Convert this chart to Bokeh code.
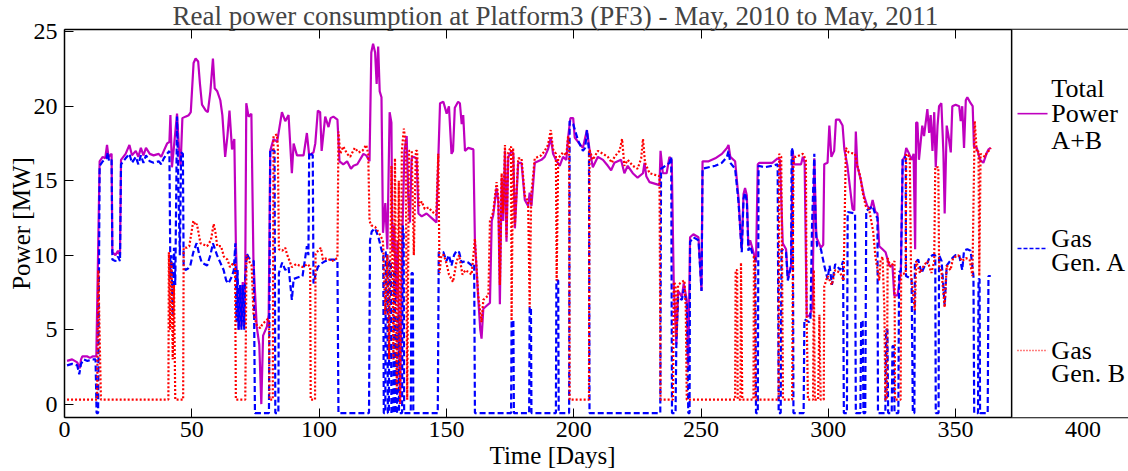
import math
from bokeh.plotting import figure
from bokeh.models import Range1d, FixedTicker, BoxAnnotation, Span, Title, LinearAxis
from bokeh.core.properties import value
from bokeh.embed import file_html
from bokeh.resources import INLINE

# ---------------- data ----------------
total_day = [1, 3, 5, 6, 6.5, 7, 9, 10, 11, 12.5, 13.8, 15, 16, 16.7, 17.3, 18.5, 18.8, 20, 21, 21.8, 22.2, 24, 25.5, 26.5, 28, 29, 30, 31, 32, 33.5, 35, 37, 38, 39, 40.3, 41.2, 41.6, 42.2, 43, 44.2, 45, 45.6, 46.3, 47.5, 48.8, 49.6, 50.7, 51.5, 52.5, 53.2, 54, 55.5, 56.3, 57.3, 58.3, 59, 60, 61.2, 62, 63.1, 64, 64.8, 65.8, 66.7, 67.3, 68, 68.4, 69, 69.5, 70, 70.6, 71, 71.4, 72.3, 73.4, 74.2, 75.5, 76.5, 77.3, 78, 79.5, 80.2, 80.8, 82.1, 83.5, 85.4, 86.7, 88, 89.3, 90, 91.3, 93.9, 95.2, 96.1, 97.8, 98.5, 99.5, 100.4, 101, 102.4, 103.7, 104.5, 105.6, 107.2, 108, 109.5, 111, 112.5, 113.5, 115, 117.4, 118.5, 119.8, 120.5, 121.2, 122, 122.6, 123.2, 123.8, 124.5, 125.1, 126, 126.8, 127.7, 128.4, 128.8, 129.5, 130.2, 130.8, 131.8, 132.6, 133.5, 134.4, 135, 135.7, 136.3, 137, 138.3, 139, 140.3, 142.2, 144.8, 146.1, 146.8, 147.5, 148.8, 150.1, 151, 152, 152.6, 153.3, 154.6, 155.3, 156, 156.6, 157.3, 158.6, 160.6, 161.2, 162.5, 163.3, 163.8, 164.5, 165.8, 167.1, 167.8, 168.4, 169.7, 170.4, 171, 171.7, 172.3, 173, 173.6, 174.3, 175.6, 176.3, 176.9, 178.2, 179.5, 180.8, 182.1, 182.7, 183.4, 184.7, 187.3, 188.6, 189.9, 191, 191.9, 193, 194.5, 195.8, 197.1, 197.8, 198.7, 199.8, 200.4, 201.7, 203.6, 205.2, 206.2, 207.5, 209.5, 211.5, 213.4, 214.7, 216, 218.6, 219.9, 221.2, 223.2, 225.1, 227.2, 227.8, 228.5, 229.8, 233.7, 234.1, 235, 236.5, 237.6, 238.5, 239.3, 240.3, 241, 242.5, 243.2, 244.4, 245, 245.7, 247, 249, 250.2, 250.6, 253, 255.6, 258.2, 260.2, 260.8, 261.5, 263.4, 264.7, 265.5, 266, 266.7, 267.3, 268, 268.6, 269.3, 270.6, 271.6, 272.3, 272.9, 275, 278, 280.1, 281, 282.1, 283.4, 284.1, 285.4, 286, 286.6, 289.3, 290, 290.7, 291.5, 292.5, 293.8, 294.5, 295.3, 297.1, 298, 298.4, 299.7, 300.4, 301.2, 302.3, 303, 304.3, 305.6, 306.3, 307.5, 309.5, 310.2, 310.8, 311.4, 312.7, 314, 315.3, 316.6, 317.4, 318.5, 319.3, 320, 321.3, 322.5, 323.9, 325.2, 325.9, 327.2, 328.5, 329.2, 330, 330.6, 331.5, 332.7, 333.5, 334.1, 334.5, 335, 335.6, 336.9, 337.6, 338.9, 339.6, 340.2, 340.9, 341.6, 342.2, 342.9, 343.5, 344.4, 345.2, 345.7, 346.5, 347.2, 348.1, 348.7, 350, 351.4, 352, 352.6, 353.3, 354, 354.6, 355.9, 356.7, 357.2, 358.3, 359.6, 360.9, 362.3, 362.9, 363.8]
total_mw = [2.9, 3.0, 2.8, 2.4, 3.0, 3.2, 3.2, 3.1, 3.2, 3.2, 16.3, 16.6, 16.5, 17.4, 16.6, 16.8, 10.2, 10.0, 10.3, 10.0, 16.4, 16.8, 17.4, 16.7, 17.0, 16.6, 17.2, 16.7, 17.2, 16.8, 16.7, 16.8, 16.6, 17.0, 17.5, 17.6, 19.4, 15.9, 17.3, 19.5, 17.0, 16.0, 19.2, 19.3, 19.4, 19.6, 22.9, 23.2, 23.0, 21.5, 20.1, 19.7, 19.6, 21.0, 23.2, 21.2, 21.0, 20.4, 19.4, 16.6, 18.0, 19.7, 17.1, 17.8, 10.8, 7.0, 5.0, 8.0, 5.2, 8.2, 5.3, 9.0, 20.2, 19.3, 19.5, 9.7, 5.2, 4.0, 0.0, 4.6, 5.2, 6.0, 17.0, 17.8, 17.6, 19.6, 19.0, 19.4, 15.5, 17.5, 16.7, 16.7, 18.2, 16.7, 16.9, 17.5, 19.7, 19.6, 17.0, 19.3, 18.6, 19.2, 19.3, 19.1, 16.3, 16.1, 16.3, 15.8, 16.0, 16.1, 16.8, 16.7, 16.3, 23.6, 24.2, 23.6, 21.5, 24.0, 21.0, 20.6, 11.5, 13.5, 10.4, 19.6, 18.9, 10.2, 12.0, 7.0, 11.0, 0.0, 10.5, 17.0, 18.0, 14.0, 12.2, 16.5, 16.6, 16.5, 12.8, 12.6, 12.8, 12.4, 12.2, 16.4, 20.2, 20.3, 19.5, 20.0, 16.8, 17.0, 19.9, 20.3, 20.2, 18.8, 19.4, 17.0, 17.2, 17.1, 10.9, 7.1, 5.0, 4.4, 6.4, 6.6, 6.8, 12.3, 12.7, 14.5, 13.6, 6.7, 15.2, 12.3, 17.0, 10.9, 16.6, 17.0, 16.8, 11.8, 16.2, 16.2, 13.7, 13.3, 14.2, 13.3, 16.2, 16.4, 16.6, 17.1, 17.9, 16.8, 16.4, 16.0, 16.6, 16.4, 17.9, 19.2, 19.2, 17.9, 17.6, 17.2, 18.4, 17.1, 15.9, 16.6, 16.4, 16.0, 15.7, 16.2, 16.4, 15.5, 16.0, 15.5, 15.2, 15.5, 16.2, 15.3, 14.9, 14.7, 17.0, 15.5, 15.5, 16.6, 16.4, 8.0, 4.0, 7.6, 7.2, 8.1, 7.0, 2.6, 11.2, 11.4, 11.2, 7.6, 16.3, 16.3, 16.5, 16.8, 17.2, 17.4, 16.6, 16.3, 13.9, 11.5, 10.4, 14.1, 14.5, 14.0, 10.6, 11.0, 10.2, 9.5, 16.1, 16.2, 16.2, 16.2, 16.5, 16.4, 10.8, 10.4, 8.4, 9.3, 17.0, 16.1, 16.1, 16.6, 16.2, 5.9, 5.9, 6.5, 16.5, 11.2, 10.5, 10.7, 16.1, 16.2, 18.7, 16.6, 17.0, 19.1, 19.1, 18.7, 17.1, 16.0, 13.1, 13.0, 18.3, 16.0, 15.1, 14.0, 13.3, 13.1, 13.7, 12.9, 12.8, 10.6, 10.4, 10.2, 9.3, 9.3, 7.3, 7.3, 8.9, 16.4, 16.6, 17.2, 16.9, 16.4, 16.8, 10.4, 18.9, 18.9, 16.4, 18.7, 18.0, 19.8, 18.2, 19.4, 17.0, 19.6, 15.9, 18.7, 20.0, 20.2, 16.9, 12.8, 18.7, 18.0, 16.9, 20.0, 20.1, 20.0, 19.0, 20.0, 17.2, 20.4, 20.6, 20.2, 20.0, 17.3, 17.2, 16.4, 16.2, 16.9, 17.1, 17.2]

gen_a_day = [1, 3, 5, 5.8, 6.5, 7.5, 9, 11, 12.2, 12.6, 13.2, 13.8, 15, 16.5, 17, 17.5, 18.5, 18.8, 20, 21, 21.8, 22.2, 24, 25.5, 26.5, 28, 29, 30, 31, 32, 33.5, 35, 37, 38, 39, 40.3, 41.2, 41.6, 42, 42.5, 43, 43.5, 44.2, 44.8, 45.3, 45.8, 46.5, 46.8, 47.5, 48.5, 49.4, 50.6, 51.9, 53, 53.9, 56, 57.3, 58.3, 59.9, 61.2, 62.5, 63.5, 64.4, 65.8, 66.5, 67.1, 67.5, 68, 68.4, 69, 69.5, 70, 70.6, 71, 71.6, 72.5, 73.5, 74.3, 74.8, 80.3, 80.8, 82.5, 82.8, 84, 84.2, 85.5, 86.7, 88, 89.3, 90, 91.5, 93.5, 95.2, 95.8, 96.1, 97.5, 97.8, 98.6, 99.5, 100.5, 102.4, 104.5, 106, 107.2, 107.6, 119.6, 120, 120.7, 122, 123.3, 124.6, 125.2, 125.4, 126, 126.2, 126.8, 127, 127.4, 127.6, 128.2, 128.4, 129.2, 129.4, 129.8, 130, 130.6, 130.8, 131.2, 131.4, 132.6, 132.8, 133.2, 133.4, 136, 136.3, 136.8, 137, 146.6, 147, 148.8, 150, 151, 152, 153, 154, 155, 156, 157.3, 158.6, 160, 160.9, 161.2, 175.4, 175.6, 176.3, 176.5, 182.5, 182.7, 183.2, 183.4, 193, 193.2, 193.9, 194.1, 198.2, 198.4, 199.8, 201.7, 203.6, 204.5, 205.2, 206, 206.2, 234, 234.3, 236, 237.6, 238.3, 238.6, 240, 240.3, 241, 242.5, 243.2, 244.4, 245, 245.5, 245.7, 247, 249, 250.2, 250.6, 253, 255.6, 258.2, 260.2, 260.8, 261.5, 263.4, 264.7, 265.5, 266, 266.7, 267.3, 268, 268.6, 269.3, 270.6, 271.3, 271.6, 272.3, 272.6, 275, 278, 280.1, 280.5, 281.3, 281.6, 283.4, 284.1, 285.4, 285.6, 286, 286.3, 290.3, 290.6, 292.5, 293, 293.6, 294.5, 295, 295.6, 297.1, 298.4, 299.7, 300.5, 301.4, 302.7, 304.7, 305.8, 306.1, 307.3, 307.6, 310.5, 310.8, 312.6, 312.9, 313.5, 313.8, 314.5, 314.9, 316, 317.4, 318.5, 319.3, 319.5, 322.4, 322.7, 323.2, 323.5, 324.9, 325.2, 325.7, 326, 327.5, 327.8, 328.5, 329.2, 330, 330.4, 330.5, 332.7, 333.2, 333.8, 334, 335.3, 336.6, 337.9, 339, 339.6, 340.9, 342, 342.2, 343.3, 343.5, 344.5, 345.7, 346.5, 347.8, 348.7, 350, 351.4, 352.6, 353.3, 354.6, 355.9, 357, 357.3, 358.8, 359, 359.4, 359.6, 362.6, 362.9, 363.8]
gen_a_mw = [2.6, 2.7, 2.6, 2.0, 2.7, 3.0, 2.9, 3.0, 3.0, -0.6, -0.6, 16.0, 16.3, 16.5, 16.9, 16.3, 16.4, 9.7, 9.6, 9.9, 9.6, 16.1, 16.5, 16.8, 16.2, 16.6, 16.1, 16.7, 16.2, 16.7, 16.3, 16.2, 16.3, 16.1, 16.5, 16.8, 17.0, 8.4, 10.0, 6.0, 10.5, 8.0, 19.3, 14.0, 10.0, 16.9, 16.8, 9.2, 9.0, 9.1, 9.3, 10.2, 10.8, 10.0, 9.5, 9.3, 10.0, 10.8, 10.0, 9.5, 9.0, 8.3, 8.1, 8.6, 9.0, 10.8, 5.5, 9.0, 5.0, 8.0, 5.0, 8.0, 5.0, 8.5, 10.1, 9.8, 9.7, 9.6, -0.6, -0.6, 17.1, 17.0, -0.6, -0.6, 8.8, 9.5, 9.0, 9.2, 7.0, 8.4, 8.5, 8.6, 10.6, 10.0, 16.9, 16.7, 8.1, 8.7, 9.2, 9.4, 9.6, 9.7, 9.7, 9.6, -0.6, -0.6, 11.0, 11.6, 11.8, 11.2, 10.3, 10.0, -0.6, -0.6, 10.2, 10.2, -0.6, -0.6, 9.6, 9.6, -0.6, -0.6, 9.0, 9.0, -0.6, -0.6, 6.0, 6.0, -0.6, -0.6, 12.0, 11.5, -0.6, -0.6, 8.8, 8.8, -0.6, -0.6, 10.2, 10.2, 9.6, 10.0, 9.3, 10.0, 10.3, 10.2, 9.5, 9.6, 9.5, 9.3, 9.4, -0.6, -0.6, 5.6, 5.6, -0.6, -0.6, 6.5, 6.5, -0.6, -0.6, 8.3, 8.3, -0.6, -0.6, 19.0, 18.8, 17.7, 17.0, 17.2, 18.4, 17.0, -0.6, -0.6, 15.8, 16.0, 16.2, 16.6, -0.6, -0.6, 4.0, 7.2, 7.0, 7.7, 6.8, -0.6, -0.6, 10.9, 11.2, 11.0, 7.6, 15.8, 15.9, 16.0, 16.2, 16.6, 17.0, 16.2, 15.8, 13.6, 11.5, 10.2, 13.8, 14.2, 13.6, 10.3, 10.6, 9.9, 9.8, -0.6, -0.6, 16.0, 15.9, 16.0, 16.1, -0.6, -0.6, 10.4, 10.2, 8.3, 9.3, 17.2, 17.0, -0.6, -0.6, 5.7, 5.5, 5.7, 12.0, 16.8, 12.0, 10.6, 10.4, 9.3, 8.4, 9.3, 8.0, 9.4, 9.0, 9.6, -0.6, -0.6, 12.9, 12.8, -0.6, -0.6, 5.6, 5.6, -0.6, -0.6, 13.0, 13.1, 13.3, 12.7, 12.5, -0.6, -0.6, 5.0, 5.0, -0.6, -0.6, 3.9, 3.9, -0.6, -0.6, 8.9, 8.9, 16.4, 16.6, 16.5, 8.6, 8.4, -0.6, -0.6, 9.5, 9.7, 8.8, 9.3, 9.5, 9.8, 10.0, 10.0, -0.6, -0.6, 10.0, 9.6, 6.6, 9.3, 9.6, 9.8, 10.0, 10.0, 9.0, 10.3, 10.4, 10.3, 8.6, -0.6, -0.6, 8.4, 8.4, -0.6, -0.6, 8.6, 8.6]

gen_b_day = [1, 12.8, 13.3, 14.3, 40.8, 41, 41.5, 42, 42.5, 43, 43.5, 46.6, 46.8, 48, 49, 50.6, 51.5, 52, 53.4, 56, 57.5, 58.6, 59.3, 60, 61.5, 62.6, 64, 65, 66, 67, 67.3, 71, 71.5, 72.5, 73.5, 74.2, 75.5, 76.9, 77.5, 78.5, 79.7, 80.3, 80.5, 81.8, 82.1, 83.4, 83.8, 84.2, 85.5, 86.7, 87.3, 89.3, 91, 93.5, 95.5, 96.5, 96.7, 98.4, 98.6, 100.7, 101.5, 103, 105, 107.2, 107.6, 108.3, 109.5, 111, 112.2, 114, 115.5, 117, 118.5, 119.3, 119.8, 120.5, 122, 123.5, 125, 125.2, 126, 126.8, 127.5, 128.4, 129.2, 129.8, 130.5, 131.3, 131.8, 132.5, 133.3, 134, 134.6, 135.3, 136.4, 137.2, 138, 138.5, 139.2, 140.3, 141.5, 143, 144.5, 146, 146.8, 147.3, 148, 149, 150.1, 151, 152.6, 154, 155, 156.3, 157.5, 159.9, 161.2, 162.5, 163.8, 164.5, 166.5, 167.1, 168.4, 169.7, 170.4, 171, 171.7, 172.3, 173, 173.6, 174.3, 175.4, 175.6, 176.2, 176.9, 178.2, 179.5, 180.8, 182.1, 182.7, 183.3, 184.7, 187.3, 188.6, 189.9, 191, 191.9, 193, 193.3, 193.9, 195.8, 197.1, 197.8, 198.2, 198.4, 206, 206.2, 207.5, 209.5, 211.5, 213.4, 215, 216, 218, 219, 219.9, 221.2, 223.2, 225.1, 226.5, 227.2, 228, 229.8, 233.7, 234.1, 239, 239.3, 240, 240.3, 241, 242.5, 243.5, 244, 244.4, 263.4, 263.6, 264.2, 264.4, 265.5, 265.7, 266.2, 270.6, 270.8, 271.2, 271.4, 280.5, 280.7, 281.5, 281.8, 282.2, 285.8, 286.3, 287.3, 290, 291.2, 291.5, 292, 294, 294.3, 294.7, 296, 296.5, 297, 298.2, 298.4, 299.7, 301.4, 302.7, 304.7, 306, 306.9, 308, 310.5, 311.4, 312.5, 313.5, 314.7, 316, 317.6, 318.5, 320, 320.5, 321.3, 322, 322.4, 323, 323.3, 324.5, 326, 326.2, 328.4, 328.6, 330.4, 330.6, 332, 332.5, 334, 334.5, 336, 337.5, 339, 340.5, 341.6, 342, 343.2, 343.5, 344.5, 345.7, 346.5, 348, 349, 351, 352.5, 354, 355.5, 356.6, 357.5, 358.3, 359, 359.3, 359.8, 361.5, 362.3, 363, 363.8]
gen_b_mw = [0.3, 0.3, 9.0, 0.3, 0.3, 10.2, 5.0, 9.5, 3.0, 8.0, 0.3, 0.3, 10.5, 10.5, 10.6, 12.3, 12.0, 12.1, 10.8, 10.6, 11.0, 12.1, 11.5, 10.6, 10.6, 9.9, 9.7, 9.2, 9.4, 9.4, 0.3, 0.3, 10.0, 9.6, 9.3, 6.1, 5.3, 5.1, 5.3, 5.5, 5.7, 5.7, 0.3, 0.3, 18.0, 18.1, 17.3, 10.4, 10.3, 10.5, 10.1, 9.2, 9.4, 9.2, 9.4, 9.2, 0.3, 0.3, 10.1, 10.5, 9.7, 9.8, 9.6, 9.8, 18.3, 16.8, 17.3, 16.8, 16.6, 17.2, 16.9, 17.0, 17.4, 16.8, 12.3, 12.0, 11.9, 11.5, 11.0, 10.5, 6.0, 10.0, 3.0, 16.0, 3.0, 16.5, 1.0, 15.0, 0.0, 17.0, 18.5, 17.5, 0.3, 17.0, 17.0, 10.0, 17.0, 17.0, 13.3, 13.6, 13.1, 13.2, 12.9, 12.7, 16.8, 8.8, 10.0, 10.0, 9.4, 8.7, 8.2, 9.6, 10.0, 8.7, 9.0, 8.7, 11.1, 7.3, 5.5, 7.0, 7.3, 12.3, 12.9, 14.9, 13.9, 8.0, 15.5, 12.8, 17.4, 11.2, 16.9, 17.3, 5.6, 17.2, 12.0, 16.5, 16.5, 14.0, 13.6, 6.5, 14.0, 16.5, 16.7, 17.0, 17.4, 18.4, 17.1, 16.8, 8.3, 16.5, 16.9, 16.7, 18.0, 17.5, 0.3, 0.3, 17.1, 16.4, 17.0, 16.8, 16.6, 16.2, 16.6, 17.0, 17.8, 16.0, 16.4, 16.0, 15.8, 16.5, 17.8, 16.2, 15.5, 15.3, 0.3, 0.3, 8.2, 8.0, 4.5, 8.0, 8.2, 8.3, 6.5, 0.3, 0.3, 9.0, 9.0, 0.3, 0.3, 9.5, 0.3, 0.3, 10.0, 9.5, 0.3, 0.3, 16.8, 16.6, 10.5, 0.3, 0.3, 16.6, 16.6, 16.8, 16.4, 6.0, 0.3, 0.3, 9.0, 0.3, 0.3, 6.0, 0.3, 0.3, 7.9, 8.6, 8.0, 9.0, 8.8, 8.3, 17.2, 16.9, 16.8, 16.0, 15.3, 14.2, 13.3, 13.1, 11.6, 9.9, 8.3, 9.6, 9.9, 6.5, 0.3, 0.3, 9.8, 9.2, 9.6, 0.3, 0.3, 8.7, 8.8, 16.8, 16.6, 8.6, 6.3, 9.6, 8.8, 9.3, 9.6, 8.8, 9.6, 15.9, 15.9, 9.3, 8.8, 6.5, 9.3, 9.0, 9.8, 10.0, 9.6, 9.8, 9.7, 8.6, 19.0, 16.9, 17.0, 8.6, 16.8, 16.6, 16.9, 17.0, 17.2]

x_ticks = [0, 50, 100, 150, 200, 250, 300, 350, 400]
y_ticks = [0, 5, 10, 15, 20, 25]
legend_labels = [["Total", "Power", "A+B"], ["Gas", "Gen. A"], ["Gas", "Gen. B"]]
title_text = "Real power consumption at Platform3 (PF3) - May, 2010 to May, 2011"
x_label = "Time [Days]"
y_label = "Power [MW]"

# ---------------- styles ----------------
FONT = "Liberation Serif"
C_TOTAL = "#BF00BF"
C_A = "#0000FF"
C_B = "#FF0000"
FS_TICK = "24px"
FS_LAB = "25px"
FS_TITLE = "27px"
FS_LEG = "26px"

p = figure(frame_width=1064, frame_height=388,
           x_range=Range1d(0, 417.9), y_range=Range1d(-0.9, 25.15),
           output_backend="svg", toolbar_location=None,
           min_border_left=64, min_border_right=0, min_border_top=0, min_border_bottom=0)
p.background_fill_color = "white"
p.border_fill_color = "white"
p.outline_line_color = None
p.xgrid.visible = False
p.ygrid.visible = False

p.title.text = title_text
p.title.text_font = FONT
p.title.text_font_size = FS_TITLE
p.title.text_font_style = "normal"
p.title.align = "left"
p.title.offset = 108
p.title.standoff = -3

def style_axis(ax, ticks, labels=True):
    ax.ticker = FixedTicker(ticks=ticks)
    ax.major_tick_in = 9
    ax.major_tick_out = 0
    ax.minor_tick_in = 0
    ax.minor_tick_out = 0
    ax.axis_line_color = "black"
    ax.axis_line_width = 1.5
    ax.major_tick_line_color = "black"
    ax.major_tick_line_width = 1
    ax.major_label_text_font = FONT
    ax.major_label_text_font_size = FS_TICK if labels else "0px"
    ax.major_label_text_color = "black"
    ax.axis_label_text_font = FONT
    ax.axis_label_text_font_size = FS_LAB
    ax.axis_label_text_font_style = "normal"
    ax.axis_label_text_color = "black"

style_axis(p.xaxis[0], x_ticks)
style_axis(p.yaxis[0], y_ticks)
p.xaxis[0].major_label_standoff = 4
p.yaxis[0].major_label_standoff = 7
p.yaxis[0].axis_label = y_label
p.yaxis[0].axis_label_standoff = -4

top_axis = LinearAxis()
style_axis(top_axis, x_ticks, labels=False)
top_axis.major_label_standoff = 0
p.add_layout(top_axis, "above")

# x label: a title below the axis, placed off-centre as in the reference
xt = Title(text=x_label, align="left", offset=425, standoff=0,
           text_font=FONT, text_font_size=FS_LAB, text_font_style="normal",
           text_color="black")
p.add_layout(xt, "below")

# ---------------- series ----------------
p.line(total_day, total_mw, line_color=C_TOTAL, line_width=2.2)
p.line(gen_a_day, gen_a_mw, line_color=C_A, line_width=2.2, line_dash="6 3")
p.line(gen_b_day, gen_b_mw, line_color=C_B, line_width=2.2, line_dash="2 2")

# ---------------- legend (drawn in the right part of the axes) ----------------
LEG_X0 = 372.0
box = BoxAnnotation(left=LEG_X0, fill_color="white", fill_alpha=1.0, line_alpha=0)
p.add_layout(box)
p.add_layout(Span(location=LEG_X0, dimension="height", line_color="black", line_width=1.5))

sample_x = [[374.3, 386.1]] * 3
sample_y = [19.5, 10.45, 3.6]
text_x = 387.6
text_rows = [[21.2, 19.5, 17.7], [11.1, 9.5], [3.6, 2.05]]
styles = [(C_TOTAL, "solid"), (C_A, "4 2"), (C_B, "1 2")]
for (color, dash), xs, ys, rows, labels in zip(styles, sample_x, sample_y, text_rows, legend_labels):
    p.line(xs, [ys, ys], line_color=color, line_width=1.6, line_dash=dash, level="overlay")
    p.text([text_x] * len(labels), rows, text=labels, text_font=value(FONT),
           text_font_size=FS_LEG, text_baseline="middle", text_align="left",
           text_color="black", level="overlay")

open("out.html", "w").write(file_html(p, INLINE))
